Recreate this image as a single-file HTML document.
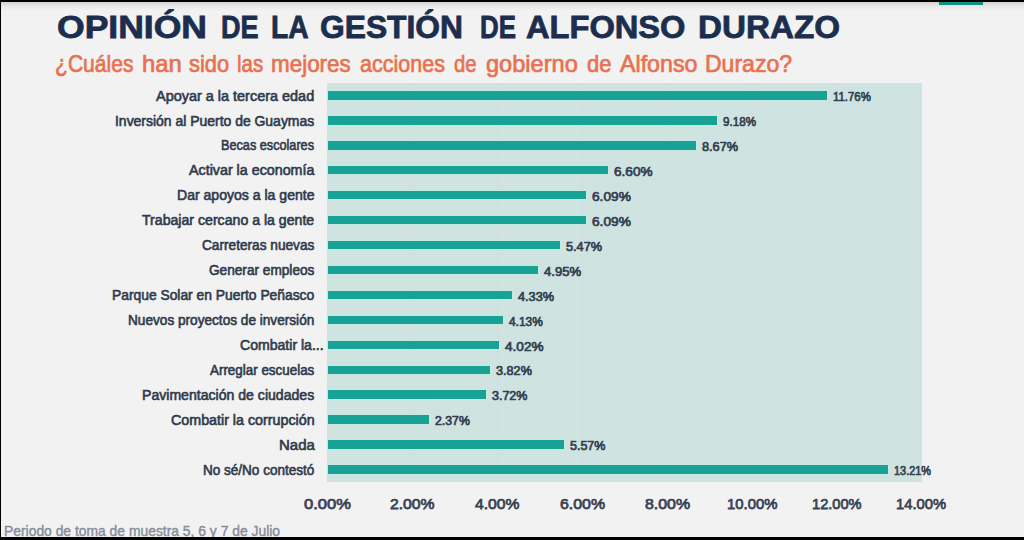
<!DOCTYPE html>
<html><head><meta charset="utf-8"><title>chart</title>
<style>
html,body{margin:0;padding:0;}
body{width:1024px;height:540px;overflow:hidden;background:#000;position:relative;font-family:"Liberation Sans",sans-serif;}
#pg{position:absolute;left:1.2px;top:1.8px;width:1022.8px;height:534.9px;background:#f2f2f2;overflow:hidden;}
.t{position:absolute;white-space:nowrap;transform-origin:0 0;display:block;}
#plot{position:absolute;left:327.3px;top:83.3px;width:594.9px;height:398.5px;background:#cfe4e1;}
.g{position:absolute;top:83.3px;width:2px;height:398.5px;background:#d1e0de;margin-left:-0.5px;}
.bar{position:absolute;height:8.45px;background:#18a296;left:328.2px;box-shadow:0 0 1.5px 0.8px #c4ebe5;}
.bk{position:absolute;background:#000;}
#tab{position:absolute;left:939px;top:1.8px;width:44px;height:3px;background:#12917f;}
#shd{position:absolute;left:0;top:1.8px;width:1024px;height:9px;background:linear-gradient(to bottom,rgba(0,0,0,0.13),rgba(0,0,0,0.04) 50%,rgba(0,0,0,0));}
</style></head><body>
<div id="pg"></div>
<div id="shd"></div>
<div id="tab"></div>
<div id="plot"></div>
<div class="g" style="left:412.5px"></div><div class="g" style="left:497.3px"></div><div class="g" style="left:582.0px"></div><div class="g" style="left:666.8px"></div><div class="g" style="left:751.6px"></div><div class="g" style="left:836.4px"></div>
<div class="bar" style="top:91.20px;width:498.51px"></div>
<div class="bar" style="top:116.14px;width:389.14px"></div>
<div class="bar" style="top:141.08px;width:367.52px"></div>
<div class="bar" style="top:166.02px;width:279.77px"></div>
<div class="bar" style="top:190.96px;width:258.16px"></div>
<div class="bar" style="top:215.90px;width:258.16px"></div>
<div class="bar" style="top:240.84px;width:231.87px"></div>
<div class="bar" style="top:265.78px;width:209.83px"></div>
<div class="bar" style="top:290.72px;width:183.55px"></div>
<div class="bar" style="top:315.66px;width:175.07px"></div>
<div class="bar" style="top:340.60px;width:170.41px"></div>
<div class="bar" style="top:365.54px;width:161.93px"></div>
<div class="bar" style="top:390.48px;width:157.69px"></div>
<div class="bar" style="top:415.42px;width:100.46px"></div>
<div class="bar" style="top:440.36px;width:236.11px"></div>
<div class="bar" style="top:465.30px;width:559.97px"></div>
<span class="t" style="left:57.00px;top:10.71px;font-size:32px;line-height:32px;color:#1c2e4e;transform:scaleX(1.1101);font-weight:bold;-webkit-text-stroke:0.8px #1c2e4e;">OPINIÓN</span>
<span class="t" style="left:221.00px;top:10.71px;font-size:32px;line-height:32px;color:#1c2e4e;transform:scaleX(0.8453);font-weight:bold;-webkit-text-stroke:0.8px #1c2e4e;">DE</span>
<span class="t" style="left:271.00px;top:10.71px;font-size:32px;line-height:32px;color:#1c2e4e;transform:scaleX(0.8818);font-weight:bold;-webkit-text-stroke:0.8px #1c2e4e;">LA</span>
<span class="t" style="left:320.00px;top:10.71px;font-size:32px;line-height:32px;color:#1c2e4e;transform:scaleX(0.9931);font-weight:bold;-webkit-text-stroke:0.8px #1c2e4e;">GESTIÓN</span>
<span class="t" style="left:479.50px;top:10.71px;font-size:32px;line-height:32px;color:#1c2e4e;transform:scaleX(0.8094);font-weight:bold;-webkit-text-stroke:0.8px #1c2e4e;">DE</span>
<span class="t" style="left:526.00px;top:10.71px;font-size:32px;line-height:32px;color:#1c2e4e;transform:scaleX(1.0193);font-weight:bold;-webkit-text-stroke:0.8px #1c2e4e;">ALFONSO</span>
<span class="t" style="left:698.00px;top:10.71px;font-size:32px;line-height:32px;color:#1c2e4e;transform:scaleX(1.0374);font-weight:bold;-webkit-text-stroke:0.8px #1c2e4e;">DURAZO</span>
<span class="t" style="left:55.20px;top:51.56px;font-size:24.5px;line-height:24.5px;color:#e9714f;transform:scaleX(0.8607);-webkit-text-stroke:0.7px #e9714f;">¿Cuáles</span>
<span class="t" style="left:141.80px;top:51.56px;font-size:24.5px;line-height:24.5px;color:#e9714f;transform:scaleX(0.9742);-webkit-text-stroke:0.7px #e9714f;">han</span>
<span class="t" style="left:189.40px;top:51.56px;font-size:24.5px;line-height:24.5px;color:#e9714f;transform:scaleX(0.8920);-webkit-text-stroke:0.7px #e9714f;">sido</span>
<span class="t" style="left:237.20px;top:51.56px;font-size:24.5px;line-height:24.5px;color:#e9714f;transform:scaleX(0.8339);-webkit-text-stroke:0.7px #e9714f;">las</span>
<span class="t" style="left:271.00px;top:51.56px;font-size:24.5px;line-height:24.5px;color:#e9714f;transform:scaleX(0.9156);-webkit-text-stroke:0.7px #e9714f;">mejores</span>
<span class="t" style="left:360.00px;top:51.56px;font-size:24.5px;line-height:24.5px;color:#e9714f;transform:scaleX(0.8789);-webkit-text-stroke:0.7px #e9714f;">acciones</span>
<span class="t" style="left:453.75px;top:51.56px;font-size:24.5px;line-height:24.5px;color:#e9714f;transform:scaleX(0.8310);-webkit-text-stroke:0.7px #e9714f;">de</span>
<span class="t" style="left:485.90px;top:51.56px;font-size:24.5px;line-height:24.5px;color:#e9714f;transform:scaleX(0.9626);-webkit-text-stroke:0.7px #e9714f;">gobierno</span>
<span class="t" style="left:587.40px;top:51.56px;font-size:24.5px;line-height:24.5px;color:#e9714f;transform:scaleX(0.8952);-webkit-text-stroke:0.7px #e9714f;">de</span>
<span class="t" style="left:619.60px;top:51.56px;font-size:24.5px;line-height:24.5px;color:#e9714f;transform:scaleX(0.9473);-webkit-text-stroke:0.7px #e9714f;">Alfonso</span>
<span class="t" style="left:705.00px;top:51.56px;font-size:24.5px;line-height:24.5px;color:#e9714f;transform:scaleX(0.9394);-webkit-text-stroke:0.7px #e9714f;">Durazo?</span>
<span class="t" style="left:156.20px;top:88.57px;font-size:14px;line-height:14px;color:#2f3a4b;transform:scaleX(1.0317);-webkit-text-stroke:0.6px #2f3a4b;">Apoyar a la tercera edad</span>
<span class="t" style="left:832.81px;top:91.14px;font-size:12.5px;line-height:12.5px;color:#343f50;transform:scaleX(0.9115);-webkit-text-stroke:0.7px #343f50;">11.76%</span>
<span class="t" style="left:115.20px;top:113.51px;font-size:14px;line-height:14px;color:#2f3a4b;transform:scaleX(0.9960);-webkit-text-stroke:0.6px #2f3a4b;">Inversión al Puerto de Guaymas</span>
<span class="t" style="left:723.44px;top:116.08px;font-size:12.5px;line-height:12.5px;color:#343f50;transform:scaleX(0.9312);-webkit-text-stroke:0.7px #343f50;">9.18%</span>
<span class="t" style="left:221.40px;top:138.45px;font-size:14px;line-height:14px;color:#2f3a4b;transform:scaleX(0.9053);-webkit-text-stroke:0.6px #2f3a4b;">Becas escolares</span>
<span class="t" style="left:701.82px;top:141.02px;font-size:12.5px;line-height:12.5px;color:#343f50;transform:scaleX(1.0187);-webkit-text-stroke:0.7px #343f50;">8.67%</span>
<span class="t" style="left:189.00px;top:163.39px;font-size:14px;line-height:14px;color:#2f3a4b;transform:scaleX(1.0199);-webkit-text-stroke:0.6px #2f3a4b;">Activar la economía</span>
<span class="t" style="left:614.07px;top:165.96px;font-size:12.5px;line-height:12.5px;color:#343f50;transform:scaleX(1.0864);-webkit-text-stroke:0.7px #343f50;">6.60%</span>
<span class="t" style="left:176.90px;top:188.33px;font-size:14px;line-height:14px;color:#2f3a4b;transform:scaleX(1.0037);-webkit-text-stroke:0.6px #2f3a4b;">Dar apoyos a la gente</span>
<span class="t" style="left:592.46px;top:190.90px;font-size:12.5px;line-height:12.5px;color:#343f50;transform:scaleX(1.0949);-webkit-text-stroke:0.7px #343f50;">6.09%</span>
<span class="t" style="left:142.20px;top:213.27px;font-size:14px;line-height:14px;color:#2f3a4b;transform:scaleX(1.0088);-webkit-text-stroke:0.6px #2f3a4b;">Trabajar cercano a la gente</span>
<span class="t" style="left:592.46px;top:215.84px;font-size:12.5px;line-height:12.5px;color:#343f50;transform:scaleX(1.0949);-webkit-text-stroke:0.7px #343f50;">6.09%</span>
<span class="t" style="left:202.00px;top:238.21px;font-size:14px;line-height:14px;color:#2f3a4b;transform:scaleX(0.9758);-webkit-text-stroke:0.6px #2f3a4b;">Carreteras nuevas</span>
<span class="t" style="left:566.17px;top:240.78px;font-size:12.5px;line-height:12.5px;color:#343f50;transform:scaleX(1.0159);-webkit-text-stroke:0.7px #343f50;">5.47%</span>
<span class="t" style="left:209.00px;top:263.15px;font-size:14px;line-height:14px;color:#2f3a4b;transform:scaleX(0.9743);-webkit-text-stroke:0.6px #2f3a4b;">Generar empleos</span>
<span class="t" style="left:544.13px;top:265.72px;font-size:12.5px;line-height:12.5px;color:#343f50;transform:scaleX(1.0497);-webkit-text-stroke:0.7px #343f50;">4.95%</span>
<span class="t" style="left:112.20px;top:288.09px;font-size:14px;line-height:14px;color:#2f3a4b;transform:scaleX(0.9879);-webkit-text-stroke:0.6px #2f3a4b;">Parque Solar en Puerto Peñasco</span>
<span class="t" style="left:517.85px;top:290.66px;font-size:12.5px;line-height:12.5px;color:#343f50;transform:scaleX(1.0159);-webkit-text-stroke:0.7px #343f50;">4.33%</span>
<span class="t" style="left:128.10px;top:313.03px;font-size:14px;line-height:14px;color:#2f3a4b;transform:scaleX(0.9731);-webkit-text-stroke:0.6px #2f3a4b;">Nuevos proyectos de inversión</span>
<span class="t" style="left:509.37px;top:315.60px;font-size:12.5px;line-height:12.5px;color:#343f50;transform:scaleX(0.9510);-webkit-text-stroke:0.7px #343f50;">4.13%</span>
<span class="t" style="left:240.10px;top:337.97px;font-size:14px;line-height:14px;color:#2f3a4b;transform:scaleX(1.0052);-webkit-text-stroke:0.6px #2f3a4b;">Combatir la...</span>
<span class="t" style="left:504.71px;top:340.54px;font-size:12.5px;line-height:12.5px;color:#343f50;transform:scaleX(1.0864);-webkit-text-stroke:0.7px #343f50;">4.02%</span>
<span class="t" style="left:210.10px;top:362.91px;font-size:14px;line-height:14px;color:#2f3a4b;transform:scaleX(0.9573);-webkit-text-stroke:0.6px #2f3a4b;">Arreglar escuelas</span>
<span class="t" style="left:496.23px;top:365.48px;font-size:12.5px;line-height:12.5px;color:#343f50;transform:scaleX(1.0131);-webkit-text-stroke:0.7px #343f50;">3.82%</span>
<span class="t" style="left:142.20px;top:387.85px;font-size:14px;line-height:14px;color:#2f3a4b;transform:scaleX(1.0057);-webkit-text-stroke:0.6px #2f3a4b;">Pavimentación de ciudades</span>
<span class="t" style="left:491.99px;top:390.42px;font-size:12.5px;line-height:12.5px;color:#343f50;transform:scaleX(0.9989);-webkit-text-stroke:0.7px #343f50;">3.72%</span>
<span class="t" style="left:170.80px;top:412.79px;font-size:14px;line-height:14px;color:#2f3a4b;transform:scaleX(1.0196);-webkit-text-stroke:0.6px #2f3a4b;">Combatir la corrupción</span>
<span class="t" style="left:434.76px;top:415.36px;font-size:12.5px;line-height:12.5px;color:#343f50;transform:scaleX(0.9848);-webkit-text-stroke:0.7px #343f50;">2.37%</span>
<span class="t" style="left:278.60px;top:437.73px;font-size:14px;line-height:14px;color:#2f3a4b;transform:scaleX(1.0688);-webkit-text-stroke:0.6px #2f3a4b;">Nada</span>
<span class="t" style="left:570.41px;top:440.30px;font-size:12.5px;line-height:12.5px;color:#343f50;transform:scaleX(0.9989);-webkit-text-stroke:0.7px #343f50;">5.57%</span>
<span class="t" style="left:203.10px;top:462.67px;font-size:14px;line-height:14px;color:#2f3a4b;transform:scaleX(0.9663);-webkit-text-stroke:0.6px #2f3a4b;">No sé/No contestó</span>
<span class="t" style="left:894.27px;top:465.24px;font-size:12.5px;line-height:12.5px;color:#343f50;transform:scaleX(0.8725);-webkit-text-stroke:0.7px #343f50;">13.21%</span>
<span class="t" style="left:303.60px;top:495.50px;font-size:15px;line-height:15px;color:#394353;transform:scaleX(1.1005);-webkit-text-stroke:0.75px #394353;">0.00%</span>
<span class="t" style="left:390.38px;top:495.50px;font-size:15px;line-height:15px;color:#394353;transform:scaleX(1.0488);-webkit-text-stroke:0.75px #394353;">2.00%</span>
<span class="t" style="left:475.26px;top:495.50px;font-size:15px;line-height:15px;color:#394353;transform:scaleX(1.0441);-webkit-text-stroke:0.75px #394353;">4.00%</span>
<span class="t" style="left:559.74px;top:495.50px;font-size:15px;line-height:15px;color:#394353;transform:scaleX(1.0582);-webkit-text-stroke:0.75px #394353;">6.00%</span>
<span class="t" style="left:644.52px;top:495.50px;font-size:15px;line-height:15px;color:#394353;transform:scaleX(1.0582);-webkit-text-stroke:0.75px #394353;">8.00%</span>
<span class="t" style="left:726.55px;top:495.50px;font-size:15px;line-height:15px;color:#394353;transform:scaleX(0.9924);-webkit-text-stroke:0.75px #394353;">10.00%</span>
<span class="t" style="left:811.78px;top:495.50px;font-size:15px;line-height:15px;color:#394353;transform:scaleX(0.9747);-webkit-text-stroke:0.75px #394353;">12.00%</span>
<span class="t" style="left:896.36px;top:495.50px;font-size:15px;line-height:15px;color:#394353;transform:scaleX(0.9826);-webkit-text-stroke:0.75px #394353;">14.00%</span>
<span class="t" style="left:3.80px;top:524.33px;font-size:14.5px;line-height:14.5px;color:#868d9a;transform:scaleX(0.9565);-webkit-text-stroke:0.4px #868d9a;">Periodo de toma de muestra 5, 6 y 7 de Julio</span>
<div class="bk" style="left:0;top:0;width:1024px;height:1.8px"></div>
<div class="bk" style="left:0;top:536.7px;width:1024px;height:4px"></div>
<div class="bk" style="left:0;top:0;width:1.2px;height:540px"></div>
</body></html>
